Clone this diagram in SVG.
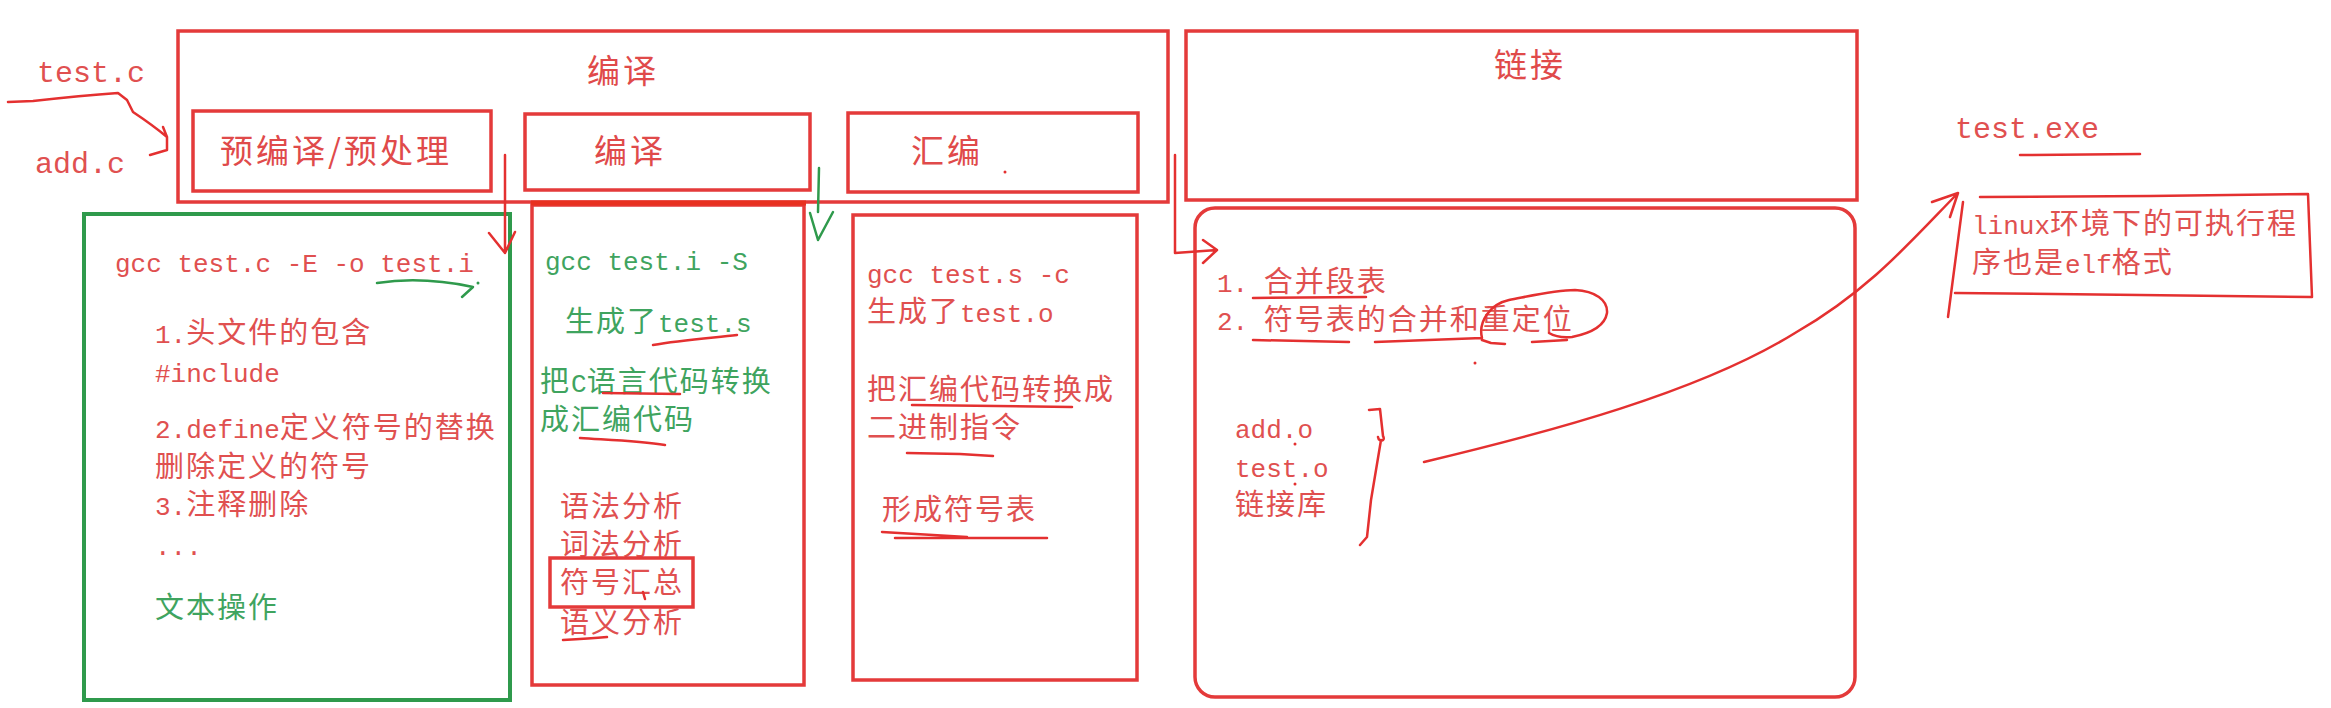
<svg xmlns="http://www.w3.org/2000/svg" width="2331" height="708" viewBox="0 0 2331 708">
<style>
.bg{fill:#ffffff}
.box{fill:none;stroke:#e43a3a;stroke-width:3.5}
.gbox{fill:none;stroke:#2f9a4c;stroke-width:4}
.c{font-family:"Noto Sans CJK SC","Liberation Sans",sans-serif;font-size:29px;letter-spacing:2px}
.h{font-family:"Noto Sans CJK SC","Liberation Sans",sans-serif;font-size:33px;letter-spacing:3px;fill:#e04a4a}
.m{font-family:"Liberation Mono",monospace;font-size:26px;letter-spacing:0}
.big{font-family:"Liberation Mono",monospace;font-size:30px}
.r{fill:#e05050}
.g{fill:#3fa45f}
.ink{fill:none;stroke:#e43030;stroke-width:2.5;stroke-linecap:round;stroke-linejoin:round}
.gink{fill:none;stroke:#2f9a4c;stroke-width:2.5;stroke-linecap:round;stroke-linejoin:round}
.dot{fill:#e43030}
</style>
<rect class="bg" x="0" y="0" width="2331" height="708"/>

<g id="src-files">
<text class="big r" x="37" y="82">test.c</text>
<text class="big r" x="35" y="173">add.c</text>
</g>

<g id="compile-stage">
<rect class="box" x="178" y="31" width="990" height="171"/>
<text class="h" x="587" y="83">编译</text>
</g>

<g id="precompile">
<rect class="box" x="193" y="111" width="298" height="80"/>
<text class="h" x="220" y="163">预编译/预处理</text>
</g>

<g id="compile">
<rect class="box" x="525" y="114" width="285" height="76"/>
<text class="h" x="594" y="163">编译</text>
</g>

<g id="assemble">
<rect class="box" x="848" y="113" width="290" height="79"/>
<text class="h" x="911" y="163">汇编</text>
<circle class="dot" cx="1005" cy="172" r="1.5"/>
</g>

<g id="link-stage">
<rect class="box" x="1186" y="31" width="671" height="169"/>
<text class="h" x="1494" y="77">链接</text>
</g>

<g id="precompile-detail">
<rect class="gbox" x="84" y="214" width="426" height="486"/>
<text class="m r" x="115" y="272">gcc test.c -E -o test.i</text>
<text class="c r" x="155" y="343"><tspan class="m">1.</tspan>头文件的包含</text>
<text class="m r" x="155" y="382">#include</text>
<text class="c r" x="155" y="438"><tspan class="m">2.define</tspan>定义符号的替换</text>
<text class="c r" x="155" y="477">删除定义的符号</text>
<text class="c r" x="155" y="515"><tspan class="m">3.</tspan>注释删除</text>
<text class="m r" x="155" y="555">...</text>
<text class="c g" x="155" y="618">文本操作</text>
</g>

<g id="compile-detail">
<rect class="box" x="532" y="205" width="272" height="480"/>
<line x1="531" y1="203" x2="806" y2="203" stroke="#e83020" stroke-width="5"/>
<text class="m g" x="545" y="270">gcc test.i -S</text>
<text class="c g" x="565" y="332">生成了<tspan class="m">test.s</tspan></text>
<text class="c g" x="540" y="392">把<tspan class="m">C</tspan>语言代码转换</text>
<text class="c g" x="540" y="430">成汇编代码</text>
<text class="c r" x="560" y="517">语法分析</text>
<text class="c r" x="560" y="555">词法分析</text>
<rect class="box" x="550" y="558" width="143" height="49"/>
<text class="c r" x="560" y="593">符号汇总</text>
<text class="c r" x="560" y="633">语义分析</text>
</g>

<g id="assemble-detail">
<rect class="box" x="853" y="215" width="284" height="465"/>
<text class="m r" x="867" y="283">gcc test.s -c</text>
<text class="c r" x="867" y="322">生成了<tspan class="m">test.o</tspan></text>
<text class="c r" x="867" y="400">把汇编代码转换成</text>
<text class="c r" x="867" y="438">二进制指令</text>
<text class="c r" x="882" y="520">形成符号表</text>
</g>

<g id="link-detail">
<rect class="box" x="1195" y="208" width="660" height="489" rx="20" ry="20"/>
<text class="c r" x="1217" y="292"><tspan class="m">1. </tspan>合并段表</text>
<text class="c r" x="1217" y="330"><tspan class="m">2. </tspan>符号表的合并和重定位</text>
<text class="m r" x="1235" y="438">add.o</text>
<text class="m r" x="1235" y="477">test.o</text>
<text class="c r" x="1235" y="515">链接库</text>
<circle class="dot" cx="1475" cy="363" r="1.5"/>
<circle class="dot" cx="1295" cy="444" r="1.5"/>
<circle class="dot" cx="1295" cy="484" r="1.5"/>
</g>

<g id="exe">
<text class="big r" x="1955" y="138">test.exe</text>
</g>

<g id="linux-note">
<path class="ink" d="M1980,197 L2150,196 L2308,194 L2312,297 M1955,293 L2140,295 L2311,297 M1963,202 L1948,317"/>
<text class="c r" x="1972" y="234"><tspan class="m">linux</tspan>环境下的可执行程</text>
<text class="c r" x="1972" y="273">序也是<tspan class="m">elf</tspan>格式</text>
</g>

<g id="connectors">
<path class="ink" d="M8,102 L33,101 C60,98 90,95 118,93 L127,100 L133,112 C145,120 155,127 167,137 M163,127 L167,137 L167,150 L150,155"/>
<path class="ink" d="M505,155 L505,253 M489,233 L505,253 L515,232"/>
<path class="gink" d="M819,168 L818,212 M810,213 L818,240 L833,212"/>
<path class="ink" d="M1175,155 L1175,253 L1217,250 M1203,240 L1217,250 L1203,263"/>
<path class="gink" d="M377,283 C410,278 440,280 473,287 L462,297"/>
<circle cx="478" cy="283" r="1.5" fill="#2f9a4c"/>
<path class="ink" d="M653,345 C680,340 710,338 737,335"/>
<path class="ink" d="M603,393 L680,394"/>
<path class="ink" d="M580,438 C610,440 640,441 665,445"/>
<path class="ink" d="M643,592 L645,599"/>
<path class="ink" d="M563,640 C580,639 595,638 607,637"/>
<path class="ink" d="M912,405 L1072,407"/>
<path class="ink" d="M907,453 L960,454 L993,456"/>
<path class="ink" d="M882,532 L967,537 M895,538 L1047,538"/>
<path class="ink" d="M1253,298 L1366,297"/>
<path class="ink" d="M1253,340 L1349,342 M1375,342 L1482,338 C1478,322 1490,304 1509,300 C1530,296 1555,290 1575,290 C1595,291 1608,300 1607,313 C1605,325 1592,333 1572,337 C1562,338 1554,336 1549,333 M1482,340 L1491,343 L1505,344 M1532,342 L1567,340"/>
<path class="ink" d="M1369,410 L1380,409 L1383,436 C1386,441 1379,443 1378,437 M1381,440 L1371,500 L1367,537 L1360,545"/>
<path class="ink" d="M1424,462 C1550,432 1700,392 1795,333 C1870,290 1912,240 1958,193 M1932,202 L1958,193 L1950,217"/>
<path class="ink" d="M2020,155 L2140,154"/>
</g>
</svg>
